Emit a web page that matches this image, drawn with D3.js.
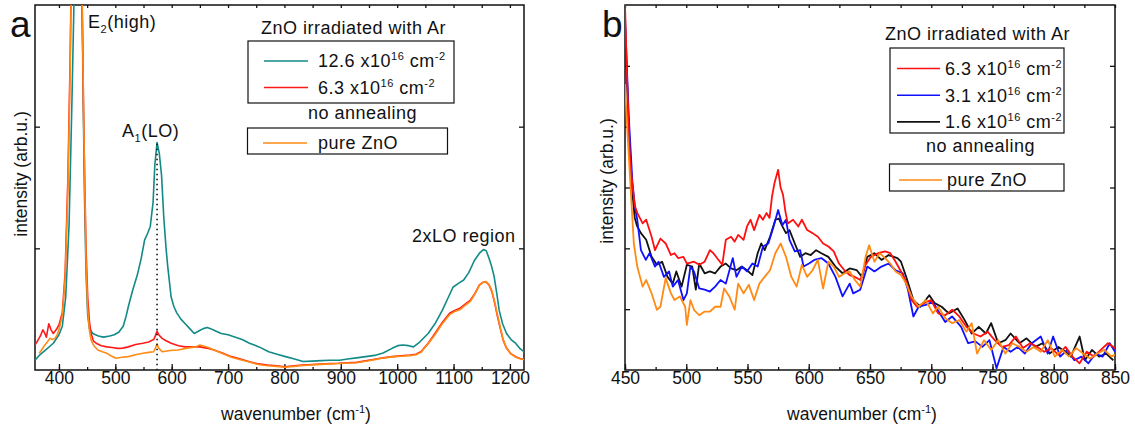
<!DOCTYPE html>
<html>
<head>
<meta charset="utf-8">
<script src="https://d3js.org/d3.v7.min.js"></script>
<style>
  body { margin: 0; background: #fff; }
  svg { font-family: "Liberation Sans", Arial, sans-serif; }
  .lbl { font-size: 18px; letter-spacing: 0.5px; fill: #111; }
  .axt { font-size: 17.5px; fill: #111; }
  .tick text { font-size: 17.5px; fill: #111; font-family: "Liberation Sans", Arial, sans-serif; }
</style>
</head>
<body>
<svg id="figure_container" width="1135" height="428"></svg>
<script>
// ---- panel a: full spectra (wavenumber, intensity arb.u.) ----
var tealA = [[357.5,0.08],[365,0.12],[375,0.16],[390,0.22],[400,0.29],[406,0.36],[412,0.6],[418,1.2],[423,2.2],[427,3.1],[432,5.0],[437,5.5],[441,3.0],[445,1.5],[448,0.8],[451,0.45],[454,0.34],[460,0.30],[470,0.28],[479,0.27],[490,0.28],[498,0.29],[506,0.31],[514,0.36],[519,0.44],[523,0.52],[531,0.66],[539,0.78],[546,0.92],[552,1.07],[557,1.12],[562,1.18],[567,1.38],[570,1.68],[574,1.87],[578,1.78],[582,1.6],[586,1.25],[590,1.0],[593,0.85],[599,0.60],[604,0.52],[609,0.47],[616,0.42],[624,0.38],[632,0.34],[640,0.30],[648,0.32],[656,0.34],[663,0.35],[669,0.34],[678,0.32],[688,0.30],[700,0.29],[713,0.27],[725,0.25],[738,0.22],[755,0.19],[772,0.15],[787,0.13],[802,0.11],[818,0.09],[833,0.07],[849,0.073],[865,0.077],[880,0.08],[898,0.08],[912,0.09],[928,0.10],[944,0.11],[960,0.12],[975,0.14],[991,0.178],[1001,0.20],[1010,0.205],[1020,0.20],[1029,0.19],[1040,0.23],[1055,0.30],[1067,0.38],[1080,0.49],[1090,0.59],[1099,0.68],[1108,0.71],[1118,0.74],[1127,0.80],[1137,0.90],[1146,0.96],[1153,0.99],[1158,0.98],[1162,0.93],[1167,0.86],[1172,0.77],[1177,0.62],[1181,0.49],[1187,0.38],[1194,0.30],[1202,0.25],[1210,0.22],[1217,0.18],[1225,0.15]];

var redA = [[357.5,0.205],[362,0.24],[367,0.28],[371.5,0.33],[374,0.31],[377.7,0.27],[380,0.33],[382,0.38],[386,0.33],[390,0.30],[395,0.33],[400,0.37],[406,0.47],[411,0.8],[416,1.6],[420,2.6],[424,4.0],[430,5.5],[436,5.0],[440,3.4],[444,2.0],[448,1.0],[451,0.6],[454,0.4],[457,0.30],[461,0.24],[466,0.22],[475,0.20],[485,0.19],[494,0.185],[504,0.178],[513,0.18],[523,0.19],[536,0.21],[549,0.22],[559,0.23],[568,0.25],[571,0.28],[574,0.32],[577,0.29],[583,0.26],[590,0.24],[599,0.22],[612,0.20],[624,0.19],[637,0.19],[650,0.19],[662,0.18],[675,0.164],[690,0.14],[706,0.11],[722,0.09],[738,0.068],[754,0.05],[770,0.041],[786,0.035],[801,0.027],[817,0.035],[833,0.041],[849,0.045],[865,0.049],[880,0.052],[896,0.055],[912,0.06],[928,0.063],[944,0.075],[960,0.088],[975,0.10],[991,0.11],[1007,0.117],[1023,0.123],[1033,0.13],[1042,0.15],[1055,0.22],[1067,0.30],[1080,0.39],[1093,0.466],[1102,0.49],[1111,0.507],[1120,0.54],[1130,0.575],[1138,0.63],[1146,0.70],[1152,0.72],[1157,0.726],[1163,0.70],[1168,0.644],[1173,0.55],[1178,0.44],[1183,0.34],[1188,0.246],[1194,0.18],[1201,0.137],[1210,0.11],[1218,0.095],[1225,0.088]];

var orangeA = [[365,0.137],[370,0.17],[374,0.2],[377.7,0.22],[384,0.26],[388,0.25],[393,0.26],[397,0.29],[400,0.33],[406,0.45],[411,0.75],[416,1.5],[420,2.5],[424,3.9],[430,5.4],[436,5.0],[440,3.5],[444,2.0],[448,0.9],[451,0.5],[454,0.33],[457,0.246],[462,0.2],[469,0.164],[477,0.15],[485,0.137],[493,0.115],[501,0.096],[512,0.105],[523,0.11],[536,0.125],[549,0.137],[559,0.145],[568,0.15],[571,0.18],[574,0.214],[577,0.18],[583,0.15],[597,0.16],[611,0.164],[627,0.18],[643,0.19],[650,0.205],[656,0.197],[665,0.185],[675,0.164],[690,0.135],[706,0.105],[722,0.085],[738,0.065],[754,0.045],[770,0.035],[786,0.03],[801,0.022],[817,0.03],[833,0.037],[849,0.042],[865,0.046],[880,0.05],[896,0.053],[912,0.058],[928,0.06],[944,0.072],[960,0.085],[975,0.098],[991,0.108],[1007,0.113],[1023,0.118],[1033,0.125],[1042,0.145],[1055,0.215],[1067,0.29],[1080,0.38],[1093,0.455],[1102,0.48],[1111,0.495],[1120,0.53],[1130,0.565],[1138,0.625],[1146,0.695],[1152,0.72],[1158,0.726],[1163,0.70],[1168,0.65],[1173,0.56],[1178,0.45],[1183,0.35],[1188,0.25],[1194,0.18],[1201,0.135],[1210,0.105],[1218,0.092],[1225,0.085]];

// ---- panel b: zoom 450-850 ----
var redB = [[450,6.0],[452,4.6],[454,3.5],[456,3.05],[458,2.7],[460.1,2.58],[464.4,2.41],[467.3,2.47],[471.7,2.19],[474.5,1.97],[478.9,2.16],[483.2,2.08],[487.5,1.89],[490.4,1.92],[493.3,1.84],[497.7,1.86],[500.5,1.75],[506.3,1.78],[510.6,1.73],[515,1.78],[519.3,1.97],[522.2,1.92],[525.1,1.84],[529.4,1.73],[532.3,2.14],[536.6,2.19],[539.5,2.11],[542.4,2.22],[546.8,2.14],[549.6,2.36],[552.5,2.47],[555.4,2.30],[559.7,2.55],[562.6,2.47],[565.5,2.58],[568,2.5],[570,2.85],[572,3.07],[575,3.29],[577,3.0],[579,2.88],[581,2.6],[582.9,2.41],[587.2,2.47],[591.5,2.36],[594.4,2.47],[598.7,2.30],[603.1,2.25],[607.4,2.19],[611.7,2.08],[616.1,2.03],[620.4,1.95],[624.7,1.75],[629.1,1.64],[633.4,1.56],[637.7,1.53],[642.1,1.48],[646.4,1.73],[650.7,1.86],[656.5,1.92],[662.3,1.95],[666.6,1.92],[670.9,1.78],[675.3,1.62],[679.6,1.45],[683.9,1.15],[688.3,1.04],[694,1.10],[699.8,1.15],[705.6,0.93],[711.4,0.90],[717.1,0.99],[722.9,0.88],[728.7,0.71],[734.5,0.60],[740.2,0.55],[746,0.63],[751.8,0.49],[757.6,0.38],[763.4,0.41],[769.1,0.55],[774.9,0.36],[780.7,0.44],[786.5,0.38],[792.2,0.30],[798,0.36],[803.8,0.25],[809.6,0.38],[815.3,0.22],[821.1,0.11],[826.9,0.30],[832.7,0.22],[838.4,0.33],[844.2,0.44],[850,0.36]];

var blueB = [[450,5.8],[453,4.2],[456,3.1],[458,2.7],[460,2.47],[463,1.97],[467,1.81],[470,1.92],[474.5,1.70],[477.4,1.78],[481.8,1.53],[486,1.62],[489,1.37],[493.3,1.48],[497.7,1.15],[500.5,1.26],[503.4,1.70],[506.3,1.62],[510.6,1.34],[515,1.32],[519.3,1.29],[523.6,1.37],[528,1.48],[532.3,1.42],[538,1.84],[541,1.53],[545.3,1.70],[549.6,1.62],[554,1.75],[558.3,1.70],[562.6,2.03],[567,2.08],[571.3,2.36],[575,2.63],[578.5,2.38],[581.4,2.47],[584.3,2.14],[588.6,1.95],[593,1.97],[595.8,1.70],[600.2,1.75],[604.5,1.81],[610.3,1.84],[616,1.75],[621.8,1.53],[627.6,1.21],[633.4,1.42],[636.3,1.26],[642,1.32],[647.8,1.70],[653.6,1.62],[659.4,1.70],[665.2,1.75],[670.9,1.64],[676.7,1.59],[681,1.32],[685.4,0.88],[689.7,1.04],[695.5,1.07],[701.3,1.12],[707,0.93],[711.4,0.79],[717,0.88],[724.4,0.71],[730.1,0.44],[736,0.47],[741.7,0.38],[747.5,0.49],[753.3,0.03],[759,0.38],[764.8,0.30],[770.6,0.38],[776.4,0.27],[782.1,0.44],[789.4,0.55],[795.1,0.27],[799.5,0.55],[805.3,0.22],[811,0.33],[816.8,0.16],[822.6,0.22],[828.3,0.11],[834.1,0.27],[839.9,0.22],[845.7,0.44],[850,0.30]];

var blackB = [[450,5.7],[453,4.0],[456,2.9],[458,2.5],[460,2.36],[463,2.25],[467.3,2.14],[471.7,1.86],[476,1.73],[480.3,1.78],[484.7,1.53],[489,1.42],[491.9,1.62],[496.2,1.37],[500.5,1.73],[504.9,1.70],[507.8,1.32],[510.6,1.75],[515,1.59],[519.3,1.62],[523.6,1.59],[528,1.70],[532.3,1.75],[536.6,1.67],[541,1.64],[545.3,1.70],[549.6,1.64],[554,1.56],[558.3,1.92],[561.2,2.08],[564,1.97],[568.4,2.19],[572.7,2.47],[575.6,2.49],[578.5,2.36],[581.4,2.25],[584.3,2.30],[588.6,2.08],[593,1.86],[597.3,1.92],[601.6,1.89],[606,1.97],[610.3,1.92],[616,1.86],[621.8,1.70],[627.6,1.59],[633.4,1.67],[639.2,1.64],[643.5,1.53],[647.8,1.86],[653.6,1.92],[659.4,1.81],[665.2,1.89],[672.4,1.84],[675.3,1.78],[679.6,1.53],[685.4,1.15],[691.2,1.04],[698.4,1.23],[702.7,1.10],[708.5,1.04],[714.3,0.93],[721.5,1.01],[727.3,0.82],[733,0.60],[738.8,0.71],[744.6,0.60],[748.9,0.77],[754.7,0.44],[760.5,0.49],[764.8,0.60],[772,0.44],[777.8,0.52],[785,0.38],[790.8,0.44],[796.6,0.27],[803.8,0.38],[809.6,0.30],[813.9,0.22],[821.1,0.55],[825.4,0.16],[831.2,0.33],[837,0.22],[842.8,0.27],[848.6,0.16]];

var orangeB = [[450,4.7],[452,3.9],[454,3.2],[456,2.5],[457.2,2.08],[460,1.70],[464.4,1.37],[467.3,1.48],[471.7,1.26],[476,0.99],[478.9,1.04],[483.2,1.51],[487.5,1.26],[490.4,1.15],[494.8,1.21],[499.1,1.04],[500.5,0.74],[503.4,1.15],[506.3,0.99],[510.6,0.90],[515,0.96],[519.3,0.96],[523.6,1.04],[528,1.04],[530.9,1.34],[535.2,1.21],[539.5,0.99],[542.4,1.42],[546.8,1.26],[551.1,1.40],[555.4,1.15],[559.7,1.42],[564,1.53],[568.4,1.64],[572.7,1.92],[577.1,2.08],[581.4,1.86],[585.8,1.53],[590.1,1.37],[594.4,1.73],[598.7,1.53],[603.1,1.64],[607.4,1.81],[611.7,1.34],[616,1.78],[620.4,1.70],[624.7,1.53],[629.1,1.59],[633.4,1.62],[637.7,1.48],[642.1,1.37],[646.4,1.86],[649.3,2.05],[653.6,1.78],[657.9,1.92],[662.3,1.84],[666.6,1.75],[670.9,1.62],[675.3,1.56],[679.6,1.42],[683.9,1.21],[689.7,1.04],[695.5,1.15],[701.3,0.93],[705.6,1.04],[711.4,0.85],[717.1,0.77],[722.9,0.82],[728.7,0.63],[733,0.77],[737.4,0.27],[743.1,0.49],[748.9,0.33],[754.7,0.49],[760.5,0.27],[766.2,0.44],[772,0.38],[777.8,0.30],[783.6,0.38],[789.4,0.30],[795.1,0.49],[800.9,0.22],[806.7,0.33],[812.5,0.22],[818.2,0.36],[824,0.27],[829.8,0.19],[835.6,0.27],[841.3,0.33],[847.1,0.22],[850,0.25]];

var ticksA = [400, 500, 600, 700, 800, 900, 1000, 1100, 1200],
	minorA = d3.range(400, 1225, 50),
	ticksB = [450, 500, 550, 600, 650, 700, 750, 800, 850],
	minorB = d3.range(450, 851, 25),
	yTicksA = [1, 2],
	yTicksB = [1, 2, 3, 4, 5],
	A1pos = 574;

var vis = d3.select("#figure_container");

var xA = d3.scaleLinear().domain([357.5, 1225]).range([35, 524]),
	yA = d3.scaleLinear().domain([0, 3]).range([370, 5]),
	xB = d3.scaleLinear().domain([450, 850]).range([625, 1115]),
	yB = d3.scaleLinear().domain([0, 6]).range([370, 5]);

function frame(id, x, y, ticks, minor, top, yt) {
	var g = vis.append("g");
	var x0 = x.range()[0], x1 = x.range()[1], y0 = y.range()[0], y1 = y.range()[1];

	vis.append("clipPath").attr("id", id).append("rect")
		.attr("x", x0).attr("y", y1).attr("width", x1 - x0).attr("height", y0 - y1);

	g.append("g").attr("transform", "translate(0," + y0 + ")")
		.call(d3.axisBottom(x).tickValues(minor).tickSizeInner(-3).tickSizeOuter(0).tickFormat(""));
	g.append("g").attr("transform", "translate(0," + y0 + ")")
		.call(d3.axisBottom(x).tickValues(ticks).tickSizeInner(-6).tickSizeOuter(0).tickPadding(2).tickFormat(d3.format("d")));
	g.append("g").attr("transform", "translate(0," + y1 + ")")
		.call(d3.axisTop(x).tickValues(top).tickSizeInner(-3).tickSizeOuter(0).tickFormat(""));
	g.append("g").attr("transform", "translate(" + x0 + ",0)")
		.call(d3.axisLeft(y).tickValues(yt).tickSizeInner(-5).tickSizeOuter(0).tickFormat(""));
	g.append("g").attr("transform", "translate(" + x1 + ",0)")
		.call(d3.axisRight(y).tickValues(yt).tickSizeInner(-5).tickSizeOuter(0).tickFormat(""));

	g.selectAll(".domain").remove();
	g.selectAll(".tick line").attr("stroke", "#111").attr("stroke-width", 1.3);

	vis.append("rect").attr("x", x0).attr("y", y1).attr("width", x1 - x0).attr("height", y0 - y1)
		.attr("fill", "none").attr("stroke", "#111").attr("stroke-width", 1.5);
}

function plotLine(data, x, y, clip, color, w) {
	var line = d3.line().x(function(d){return x(d[0]);}).y(function(d){return y(d[1]);});
	vis.append("path").datum(data)
		.attr("clip-path", "url(#" + clip + ")")
		.attr("d", line)
		.attr("fill", "none")
		.attr("stroke", color)
		.attr("stroke-width", w)
		.attr("stroke-linejoin", "round");
}

frame("clipA", xA, yA, ticksA, minorA, minorA, yTicksA);
frame("clipB", xB, yB, ticksB, minorB, minorB, yTicksB);

plotLine(tealA, xA, yA, "clipA", "#128a87", 1.6);
plotLine(redA, xA, yA, "clipA", "#ff1a1a", 1.6);
plotLine(orangeA, xA, yA, "clipA", "#ff8a14", 1.6);

// dotted marker at A1(LO)
vis.append("line")
	.attr("x1", xA(A1pos)).attr("x2", xA(A1pos))
	.attr("y1", yA(1.86)).attr("y2", yA(0))
	.attr("stroke", "#111").attr("stroke-width", 1.6).attr("stroke-dasharray", "1.5,3.5");

plotLine(blackB, xB, yB, "clipB", "#111111", 1.8);
plotLine(blueB, xB, yB, "clipB", "#1010ff", 1.8);
plotLine(redB, xB, yB, "clipB", "#ff1010", 1.8);
plotLine(orangeB, xB, yB, "clipB", "#ff8a14", 1.8);

// axis titles
function xTitle(cx) {
	var t = vis.append("text").attr("class", "axt").attr("x", cx).attr("y", 420).attr("text-anchor", "middle");
	t.append("tspan").text("wavenumber (cm");
	t.append("tspan").attr("font-size", "11px").attr("dy", -7).text("-1");
	t.append("tspan").attr("dy", 7).text(")");
}
xTitle(296);
xTitle(862);

vis.append("text").attr("class", "axt").attr("text-anchor", "middle")
	.attr("transform", "translate(27,174) rotate(-90)").text("intensity (arb.u.)");
vis.append("text").attr("class", "axt").attr("text-anchor", "middle")
	.attr("transform", "translate(613,181) rotate(-90)").text("intensity (arb.u.)");

// panel letters
vis.append("text").attr("x", 10).attr("y", 37).attr("font-size", "37px").attr("fill", "#111").text("a");
vis.append("text").attr("x", 602).attr("y", 37).attr("font-size", "37px").attr("fill", "#111").text("b");

// peak labels
function subLabel(x, y, main, sub, rest) {
	var t = vis.append("text").attr("class", "lbl").attr("x", x).attr("y", y);
	t.append("tspan").text(main);
	t.append("tspan").attr("font-size", "11px").attr("dy", 5).text(sub);
	t.append("tspan").attr("dy", -5).text(rest);
}
subLabel(88, 28, "E", "2", "(high)");
subLabel(122, 137, "A", "1", "(LO)");
vis.append("text").attr("class", "lbl").attr("x", 412).attr("y", 242).text("2xLO region");

// legends
function doseText(x, y, num) {
	var t = vis.append("text").attr("class", "lbl").attr("x", x).attr("y", y);
	t.append("tspan").text(num + " x10");
	t.append("tspan").attr("font-size", "11px").attr("dy", -7).text("16");
	t.append("tspan").attr("dy", 7).text(" cm");
	t.append("tspan").attr("font-size", "11px").attr("dy", -7).text("-2");
}
function legendLine(x1, x2, y, color) {
	vis.append("line").attr("x1", x1).attr("x2", x2).attr("y1", y).attr("y2", y)
		.attr("stroke", color).attr("stroke-width", 1.6);
}
function box(x, y, w, h) {
	vis.append("rect").attr("x", x).attr("y", y).attr("width", w).attr("height", h)
		.attr("fill", "#fff").attr("stroke", "#111").attr("stroke-width", 1.2);
}

var legendA = [["12.6", "#128a87"], ["6.3", "#ff1a1a"]];
vis.append("text").attr("class", "lbl").attr("x", 261).attr("y", 34).text("ZnO irradiated with Ar");
box(248, 41, 206, 62);
legendA.forEach(function(d, i){
	legendLine(264, 308, 61 + i * 26.5, d[1]);
	doseText(318, 67 + i * 26.5, d[0]);
});
vis.append("text").attr("class", "lbl").attr("x", 308).attr("y", 119).text("no annealing");
box(247.5, 128, 200, 26);
legendLine(263, 307, 143, "#ff8a14");
vis.append("text").attr("class", "lbl").attr("x", 318).attr("y", 149).text("pure ZnO");

var legendB = [["6.3", "#ff1010"], ["3.1", "#1010ff"], ["1.6", "#111111"]];
vis.append("text").attr("class", "lbl").attr("x", 885).attr("y", 40).text("ZnO irradiated with Ar");
box(890, 48, 174, 85);
legendB.forEach(function(d, i){
	legendLine(897, 940, 68.5 + i * 26.7, d[1]);
	doseText(945, 75 + i * 26.5, d[0]);
});
vis.append("text").attr("class", "lbl").attr("x", 926).attr("y", 152).text("no annealing");
box(889.5, 164, 174.5, 27);
legendLine(899, 942, 180, "#ff8a14");
vis.append("text").attr("class", "lbl").attr("x", 947).attr("y", 186).text("pure ZnO");
</script>
</body>
</html>
